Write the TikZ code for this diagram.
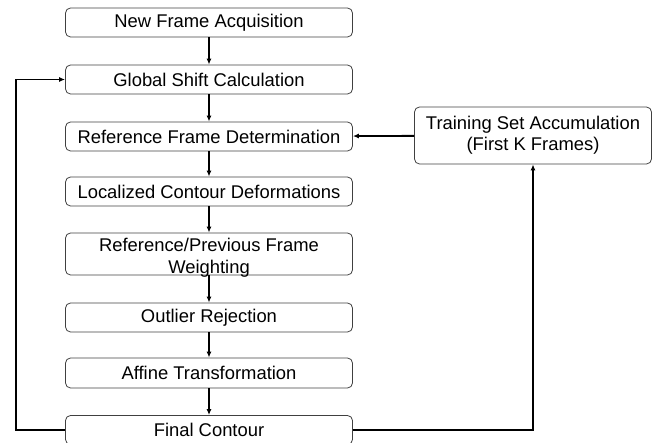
\documentclass[tikz,border=0pt]{standalone}
\usepackage{fontspec}
\setmainfont{Liberation Sans}
\usetikzlibrary{arrows.meta}
\begin{document}
\begin{tikzpicture}[x=1pt,y=-1pt,
  box/.style={draw=black!75,line width=0.8pt,rounded corners=5pt,inner sep=0pt,
    minimum width=287pt,font=\fontsize{18.4}{22}\selectfont,align=center},
  conn/.style={line width=1.8pt,-{Latex[length=6pt,width=5pt]}}]
\useasboundingbox (0,0) rectangle (654,443);
\node[box,minimum height=29pt] (n1) at (209,22.5) {New Frame Acquisition};
\node[box,minimum height=29pt] (n2) at (209,79.5) {Global Shift Calculation};
\node[box,minimum height=29pt] (n3) at (209,136.5) {Reference Frame Determination};
\node[box,minimum height=29pt] (n4) at (209,191.5) {Localized Contour Deformations};
\node[box,minimum height=42pt] (n5) at (209,254) {};
\node[font=\fontsize{18.4}{22}\selectfont,align=center,inner sep=0pt] (n5t) at (209,258) {Reference/Previous Frame\\Weighting};
\node[box,minimum height=29pt] (n6) at (209,317.5) {Outlier Rejection};
\node[box,minimum height=30pt] (n7) at (209,373) {Affine Transformation};
\node[box,minimum height=29pt] (n8) at (209,430) {Final Contour};
\node[box,minimum width=237pt,minimum height=57pt,font=\fontsize{18.4}{21}\selectfont] (tr) at (533,135.5) {Training Set Accumulation\\(First K Frames)};
\coordinate (la) at (16,430);
\coordinate (lb) at (16,79.5);
\draw[conn] (n1) -- (n2);
\draw[conn] (n2) -- (n3);
\draw[conn] (n3) -- (n4);
\draw[conn] (n4) -- (n5);
\draw[conn] (n5) -- (n6);
\draw[conn] (n6) -- (n7);
\draw[conn] (n7) -- (n8);
\draw[conn] (tr) -- (n3);
\draw[conn] (n8.west) -- (la) -- (lb) -- (n2.west);
\draw[conn] (n8.east) -| (tr.south);
\end{tikzpicture}
\end{document}
